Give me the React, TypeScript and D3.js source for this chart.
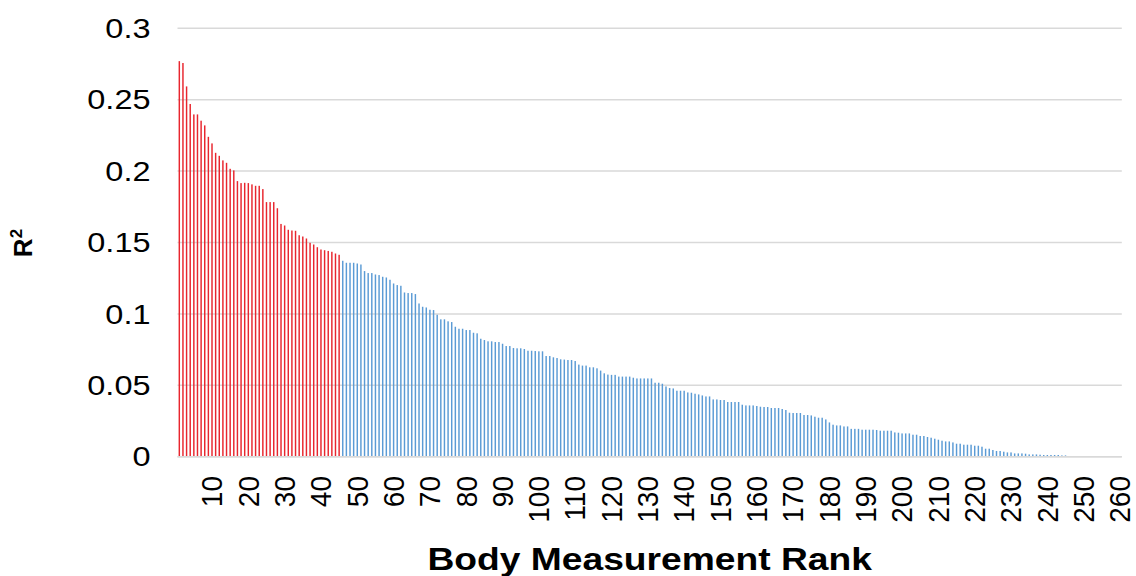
import React from "react";
import * as d3 from "d3";

const redCount = 45;

const values: number[] = [
  // 1-45 (red)
  0.277, 0.2757, 0.2593, 0.247, 0.2397, 0.2397, 0.2353, 0.232, 0.224, 0.2194,
  0.2128, 0.2107, 0.2075, 0.2058, 0.2016, 0.2005, 0.193, 0.1916, 0.1918, 0.1916,
  0.1907, 0.1897, 0.1897, 0.1874, 0.1783, 0.1783, 0.1783, 0.174, 0.163, 0.1619,
  0.1589, 0.1584, 0.1582, 0.1551, 0.1542, 0.1528, 0.1498, 0.1486, 0.1467, 0.1451,
  0.1446, 0.1441, 0.1435, 0.1423, 0.1414,
  // 46-125
  0.1372, 0.1358, 0.1358, 0.1358, 0.1353, 0.1346, 0.13, 0.1286, 0.1286, 0.1276,
  0.1272, 0.126, 0.1255, 0.1239, 0.1213, 0.1202, 0.1197, 0.115, 0.1146, 0.1146,
  0.1139, 0.1073, 0.105, 0.1045, 0.1029, 0.1027, 0.0994, 0.0962, 0.0962, 0.0948,
  0.0943, 0.091, 0.0896, 0.0896, 0.0887, 0.0887, 0.0868, 0.0864, 0.0826, 0.0817,
  0.0808, 0.0808, 0.0803, 0.0803, 0.0791, 0.0775, 0.0775, 0.0761, 0.0759, 0.0759,
  0.0754, 0.0742, 0.0742, 0.074, 0.0738, 0.0738, 0.0705, 0.0705, 0.0696, 0.0691,
  0.0682, 0.068, 0.0677, 0.0677, 0.067, 0.0645, 0.0638, 0.0638, 0.0626, 0.0626,
  0.0619, 0.0603, 0.0584, 0.0575, 0.0573, 0.0573, 0.0561, 0.0561, 0.0561, 0.0561,
  // 126-188
  0.0553, 0.0548, 0.0548, 0.0548, 0.0548, 0.0548, 0.0518, 0.0518, 0.0511, 0.0492,
  0.0481, 0.0478, 0.0462, 0.0462, 0.0462, 0.045, 0.0448, 0.0441, 0.0436, 0.0429,
  0.0422, 0.0422, 0.0401, 0.0401, 0.0397, 0.0397, 0.0383, 0.0383, 0.0383, 0.0383,
  0.0364, 0.0359, 0.0359, 0.0359, 0.0355, 0.035, 0.0348, 0.0348, 0.0341, 0.0341,
  0.0341, 0.0334, 0.0327, 0.0308, 0.0306, 0.0306, 0.0306, 0.0292, 0.0292, 0.0289,
  0.028, 0.0273, 0.0273, 0.0261, 0.024, 0.0224, 0.0219, 0.0219, 0.0212, 0.0212,
  0.0195, 0.0195, 0.0195,
  // 189-245
  0.0189, 0.0189, 0.0189, 0.0189, 0.0187, 0.0182, 0.0182, 0.0182, 0.0182, 0.017,
  0.0168, 0.0163, 0.0163, 0.0163, 0.0154, 0.0154, 0.0145, 0.0145, 0.0138, 0.0133,
  0.0126, 0.0119, 0.0112, 0.0107, 0.0107, 0.01, 0.0091, 0.0091, 0.0084, 0.0084,
  0.0084, 0.0077, 0.0077, 0.007, 0.0056, 0.0056, 0.0047, 0.004, 0.004, 0.0035,
  0.003, 0.003, 0.0023, 0.0023, 0.0023, 0.0021, 0.0016, 0.0016, 0.0016, 0.0014,
  0.0012, 0.0012, 0.0012, 0.0012, 0.0012, 0.0009, 0.0009,
  // 246-260
  0.0004, 0.0003, 0.0002, 0.0002, 0.0001, 0.0001, 0.0001, 0, 0, 0,
  0, 0, 0, 0, 0,
];

const ranks: number[] = values.map((_, i) => i + 1);
const xTickLabels: number[] = [10, 20, 30, 40, 50, 60, 70, 80, 90, 100, 110, 120, 130, 140, 150, 160, 170, 180, 190, 200, 210, 220, 230, 240, 250, 260];
const yTicks: number[] = [0, 0.05, 0.1, 0.15, 0.2, 0.25, 0.3];

const W = 1136;
const H = 576;
const left = 177.5;
const right = 1121.8;
const top = 28.3;
const bottom = 456.7;

const RED = "#E8262E";
const BLUE = "#5B9BD5";
const GRID = "#D9D9D9";
const FONT = "Arial, 'Liberation Sans', sans-serif";

export default function App() {
  const x = d3
    .scaleBand<number>()
    .domain(ranks)
    .range([left, right])
    .paddingInner(0.6)
    .paddingOuter(0.3);
  const y = d3.scaleLinear().domain([0, 0.3]).range([bottom, top]);
  const fmt = (v: number) => (v === 0 ? "0" : String(+v.toFixed(2)));

  return (
    <svg
      width={W}
      height={H}
      style={{ position: "absolute", left: 0, top: 0, background: "#fff" }}
    >
      <rect x={0} y={0} width={W} height={H} fill="#fff" />
      {yTicks.map((t) => (
        <line
          key={"g" + t}
          x1={left}
          x2={right}
          y1={y(t)}
          y2={y(t)}
          stroke={GRID}
          strokeWidth={1.5}
        />
      ))}
      {yTicks.map((t) => (
        <text
          key={"yl" + t}
          transform={`translate(150.5,${y(t)}) scale(1.16,1)`}
          textAnchor="end"
          dominantBaseline="central"
          fontFamily={FONT}
          fontSize={28}
          fill="#000"
        >
          {fmt(t)}
        </text>
      ))}
      {values.map((v, i) => (
        <rect
          key={"b" + i}
          x={x(ranks[i])}
          width={x.bandwidth()}
          y={y(v)}
          height={Math.max(0, y(0) - y(v))}
          fill={i < redCount ? RED : BLUE}
        />
      ))}
      <line x1={left} x2={right} y1={y(0)} y2={y(0)} stroke={GRID} strokeWidth={1.5} />
      {xTickLabels.map((t) => {
        const cx = (x(t) as number) + x.bandwidth() / 2;
        return (
          <text
            key={"xl" + t}
            transform={`translate(${cx},${476}) scale(1.06,1) rotate(-90)`}
            textAnchor="end"
            dominantBaseline="central"
            fontFamily={FONT}
            fontSize={28}
            fill="#000"
          >
            {t}
          </text>
        );
      })}
      <text
        transform={`translate(${(left + right) / 2},570) scale(1.2,1)`}
        textAnchor="middle"
        fontFamily={FONT}
        fontSize={31}
        fontWeight="bold"
        fill="#000"
      >
        Body Measurement Rank
      </text>
      <text
        transform={`translate(32,243) rotate(-90)`}
        textAnchor="middle"
        fontFamily={FONT}
        fontSize={26}
        fontWeight="bold"
        fill="#000"
      >
        R
        <tspan fontSize={17} dy={-10}>
          2
        </tspan>
      </text>
    </svg>
  );
}
